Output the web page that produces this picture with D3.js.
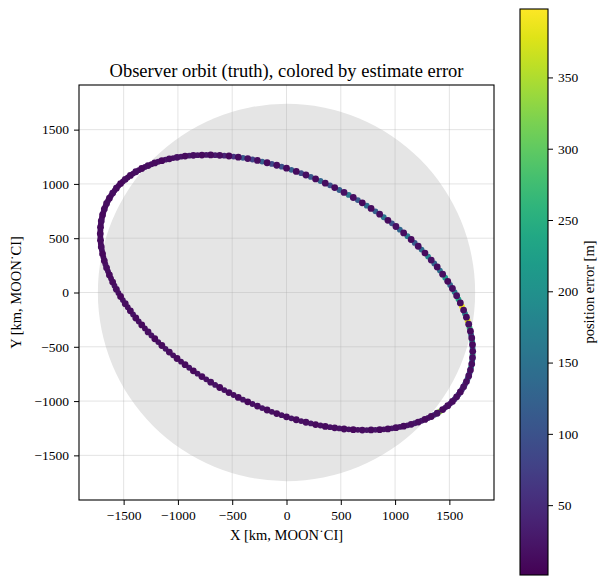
<!DOCTYPE html>
<html>
<head>
<meta charset="utf-8">
<script src="https://cdn.jsdelivr.net/npm/d3@7"></script>
<style>
body { margin: 0; background: #fff; }
text { font-family: "Liberation Serif", "DejaVu Serif", serif; fill: #000; }
</style>
</head>
<body>
<svg width="609" height="585"></svg>
<script>
// observer track, one sample every few degrees of the orbit
var orbitX = [1715,1713,1706,1694,1678,1657,1631,1601,1567,1528,1485,1438,1388,1333,1275,1213,1148,1079,1008,934,858,779,698,615,530,444,357,268,179,90,0,
  -90,-179,-268,-357,-444,-530,-615,-698,-779,-858,-934,-1008,-1079,-1148,-1213,-1275,-1333,-1388,-1438,-1485,-1528,-1567,-1601,-1631,-1657,-1678,-1694,-1706,-1713,-1715,
  -1713,-1706,-1694,-1678,-1657,-1631,-1601,-1567,-1528,-1485,-1438,-1388,-1333,-1275,-1213,-1148,-1079,-1008,-934,-858,-779,-698,-615,-530,-444,-357,-268,-179,-90,0,
  90,179,268,357,444,530,615,698,779,858,934,1008,1079,1148,1213,1275,1333,1388,1438,1485,1528,1567,1601,1631,1657,1678,1694,1706,1713];
var orbitY = [-542,-481,-419,-356,-292,-227,-162,-96,-29,37,103,169,235,299,363,426,488,549,608,665,721,774,826,875,922,966,1007,1046,1082,1115,1145,
  1172,1195,1216,1233,1246,1257,1263,1267,1266,1263,1256,1245,1231,1214,1193,1169,1142,1112,1078,1042,1003,961,916,869,820,768,714,659,601,542,
  481,419,356,292,227,162,96,29,-37,-103,-169,-235,-299,-363,-426,-488,-549,-608,-665,-721,-774,-826,-875,-922,-966,-1007,-1046,-1082,-1115,-1145,
  -1172,-1195,-1216,-1233,-1246,-1257,-1263,-1267,-1266,-1263,-1256,-1245,-1231,-1214,-1193,-1169,-1142,-1112,-1078,-1042,-1003,-961,-916,-869,-820,-768,-714,-659,-601];
var orbitErr = [14,12,16,11,18,13,15,12,17,14,10,16,13,19,12,15,11,14,17,12,16,13,10,15,18,12,14,11,16,13,12,
  15,11,14,17,12,10,16,13,11,15,12,18,14,10,13,16,11,15,12,14,9,13,16,11,14,12,10,15,13,11,
  12,14,10,13,15,11,12,16,10,14,12,13,11,15,10,12,14,11,13,10,12,15,11,13,12,10,14,12,11,13,
  12,14,11,13,15,12,10,14,12,11,13,15,12,16,14,11,13,17,12,15,14,16,13,18,15,17,14,16,19];

// second pass, sits between the first-pass samples
var passX = [1714,1710,1700,1686,1668,1644,1616,1584,1548,1507,1462,1413,1361,1304,1244,1181,1114,1044,971,896,819,739,657,573,487,401,313,224,135,45,
  -45,-135,-224,-313,-401,-487,-573,-657,-739,-819,-896,-971,-1044,-1114,-1181,-1244,-1304,-1361,-1413,-1462,-1507,-1548,-1584,-1616,-1644,-1668,-1686,-1700,-1710,-1714,
  -1714,-1710,-1700,-1686,-1668,-1644,-1616,-1584,-1548,-1507,-1462,-1413,-1361,-1304,-1244,-1181,-1114,-1044,-971,-896,-819,-739,-657,-573,-487,-401,-313,-224,-135,-45,
  45,135,224,313,401,487,573,657,739,819,896,971,1044,1114,1181,1244,1304,1361,1413,1462,1507,1548,1584,1616,1644,1668,1686,1700,1710,1714];
var passY = [-512,-450,-388,-324,-260,-195,-129,-63,4,70,136,202,267,331,395,457,519,579,637,693,748,800,851,899,944,987,1027,1064,1099,1130,
  1159,1184,1206,1225,1240,1252,1260,1265,1267,1265,1260,1251,1238,1223,1204,1181,1156,1127,1095,1060,1023,982,939,893,845,794,741,687,630,572,
  512,450,388,324,260,195,129,63,-4,-70,-136,-202,-267,-331,-395,-457,-519,-579,-637,-693,-748,-800,-851,-899,-944,-987,-1027,-1064,-1099,-1130,
  -1159,-1184,-1206,-1225,-1240,-1252,-1260,-1265,-1267,-1265,-1260,-1251,-1238,-1223,-1204,-1181,-1156,-1127,-1095,-1060,-1023,-982,-939,-893,-845,-794,-741,-687,-630,-572];
var passErr = [160,220,140,260,380,190,390,230,170,130,210,150,120,180,140,110,160,130,100,150,120,140,110,160,120,100,130,110,90,120,
  100,90,120,80,110,60,40,30,25,20,28,22,18,24,20,16,22,18,20,15,18,22,16,20,18,15,20,17,19,16,
  18,16,20,15,22,18,16,20,17,19,15,21,18,16,20,17,22,18,16,20,19,17,21,18,16,20,18,22,17,19,
  20,18,22,17,19,21,18,16,20,22,18,25,20,24,30,35,28,60,330,45,38,50,70,60,90,140,110,200,170,250];

var axisTicks = [-1500, -1000, -500, 0, 500, 1000, 1500];
var cbarTicks = [50, 100, 150, 200, 250, 300, 350];
var moonRadius = 1737.4;
var errRange = [1, 398];

var svg = d3.select("svg"),
    plot = {left: 79, top: 85, size: 415},
    cbar = {left: 520, top: 9, width: 28, height: 566},
    fmt = d3.format("d");

var x = d3.scaleLinear().domain([-1911, 1911]).range([plot.left, plot.left + plot.size]);
var y = d3.scaleLinear().domain([-1911, 1911]).range([plot.top + plot.size, plot.top]);
var color = d3.scaleSequential(d3.interpolateViridis).domain(errRange);

svg.append("defs").append("clipPath").attr("id", "clip")
   .append("rect")
   .attr("x", plot.left).attr("y", plot.top)
   .attr("width", plot.size).attr("height", plot.size);

var g = svg.append("g").attr("clip-path", "url(#clip)");

// moon disc
g.append("circle")
 .attr("cx", x(0)).attr("cy", y(0))
 .attr("r", x(moonRadius) - x(0))
 .attr("fill", "#e5e5e5");

// grid
g.selectAll(".vgrid").data(axisTicks).enter().append("line")
 .attr("x1", function(d) { return x(d); }).attr("x2", function(d) { return x(d); })
 .attr("y1", plot.top).attr("y2", plot.top + plot.size)
 .attr("stroke", "#b0b0b0").attr("stroke-opacity", 0.35).attr("stroke-width", 1);
g.selectAll(".hgrid").data(axisTicks).enter().append("line")
 .attr("y1", function(d) { return y(d); }).attr("y2", function(d) { return y(d); })
 .attr("x1", plot.left).attr("x2", plot.left + plot.size)
 .attr("stroke", "#b0b0b0").attr("stroke-opacity", 0.35).attr("stroke-width", 1);

// second pass first, first pass drawn over it
g.selectAll(".pass").data(d3.range(passX.length)).enter().append("circle")
 .attr("cx", function(i) { return x(passX[i]); })
 .attr("cy", function(i) { return y(passY[i]); })
 .attr("r", 2.9)
 .attr("fill", function(i) { return color(passErr[i]); });

g.selectAll(".orbit").data(d3.range(orbitX.length)).enter().append("circle")
 .attr("cx", function(i) { return x(orbitX[i]); })
 .attr("cy", function(i) { return y(orbitY[i]); })
 .attr("r", 3.4)
 .attr("fill", function(i) { return color(orbitErr[i]); });

// axes
var xAxis = svg.append("g")
   .attr("transform", "translate(0," + (plot.top + plot.size) + ")")
   .call(d3.axisBottom(x).tickValues(axisTicks).tickFormat(fmt).tickSize(5).tickPadding(5));
var yAxis = svg.append("g")
   .attr("transform", "translate(" + plot.left + ",0)")
   .call(d3.axisLeft(y).tickValues(axisTicks).tickFormat(fmt).tickSize(5).tickPadding(5));
[xAxis, yAxis].forEach(function(a) {
  a.select(".domain").remove();
  a.selectAll("text").attr("font-family", "Liberation Serif").attr("font-size", "13.5px");
  a.selectAll("line").attr("stroke", "#000").attr("stroke-width", 1);
});

svg.append("rect")
   .attr("x", plot.left).attr("y", plot.top)
   .attr("width", plot.size).attr("height", plot.size)
   .attr("fill", "none").attr("stroke", "#000").attr("stroke-width", 1.1);

svg.append("text")
   .attr("x", plot.left + plot.size / 2).attr("y", 77)
   .attr("text-anchor", "middle").attr("font-size", "18.5px")
   .text("Observer orbit (truth), colored by estimate error");

svg.append("text")
   .attr("x", plot.left + plot.size / 2).attr("y", 540)
   .attr("text-anchor", "middle").attr("font-size", "14.5px")
   .text("X [km, MOON\u02D9CI]");

svg.append("text")
   .attr("transform", "translate(21," + (plot.top + plot.size / 2) + ") rotate(-90)")
   .attr("text-anchor", "middle").attr("font-size", "14.5px")
   .text("Y [km, MOON\u02D9CI]");

// colorbar
var grad = svg.select("defs").append("linearGradient")
   .attr("id", "viridis").attr("x1", 0).attr("y1", 1).attr("x2", 0).attr("y2", 0);
grad.selectAll("stop").data(d3.range(0, 1.0001, 0.05)).enter().append("stop")
   .attr("offset", function(d) { return d; })
   .attr("stop-color", function(d) { return d3.interpolateViridis(d); });

svg.append("rect")
   .attr("x", cbar.left).attr("y", cbar.top)
   .attr("width", cbar.width).attr("height", cbar.height)
   .attr("fill", "url(#viridis)").attr("stroke", "#000").attr("stroke-width", 1.1);

var c = d3.scaleLinear().domain(errRange).range([cbar.top + cbar.height, cbar.top]);
var cAxis = svg.append("g")
   .attr("transform", "translate(" + (cbar.left + cbar.width) + ",0)")
   .call(d3.axisRight(c).tickValues(cbarTicks).tickFormat(fmt).tickSize(5).tickPadding(5));
cAxis.select(".domain").remove();
cAxis.selectAll("text").attr("font-family", "Liberation Serif").attr("font-size", "13.5px");
cAxis.selectAll("line").attr("stroke", "#000").attr("stroke-width", 1);

svg.append("text")
   .attr("transform", "translate(594," + (cbar.top + cbar.height / 2) + ") rotate(-90)")
   .attr("text-anchor", "middle").attr("font-size", "14.5px")
   .text("position error [m]");
</script>
</body>
</html>
